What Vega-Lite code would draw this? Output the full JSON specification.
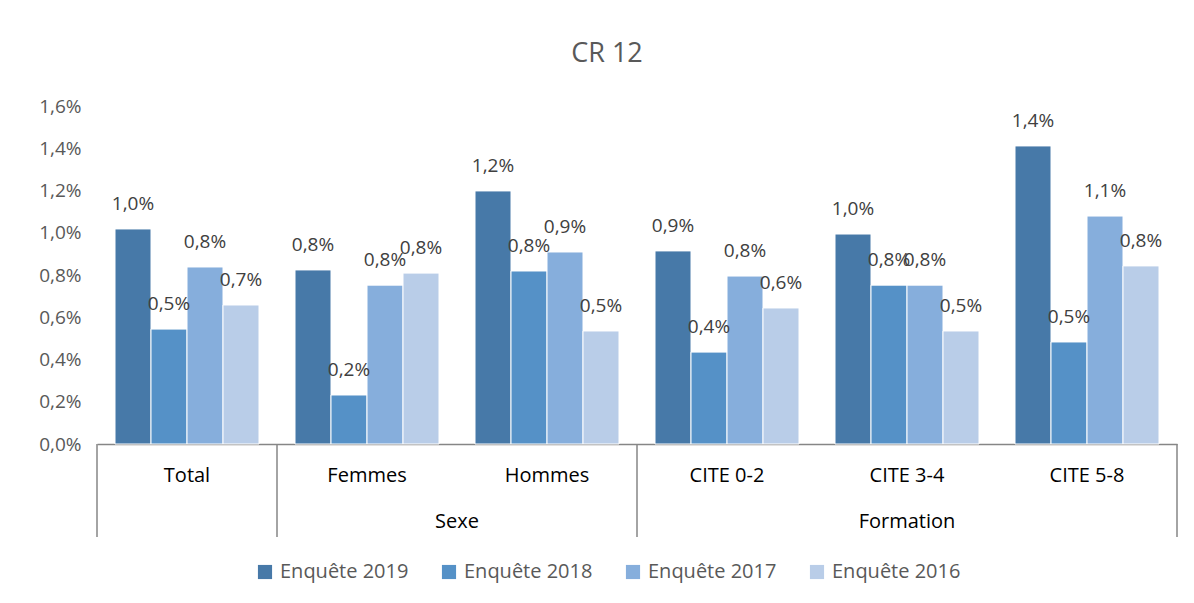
{
  "$schema": "https://vega.github.io/schema/vega-lite/v6.json",
  "width": 1080,
  "height": 338,
  "autosize": {"type": "none"},
  "padding": {"left": 97, "top": 106, "right": 17, "bottom": 159},
  "background": "white",
  "config": {
    "locale": {"number": {"decimal": ",", "thousands": " ", "grouping": [3], "currency": ["", " €"]}},
    "font": "Open Sans",
    "view": {"stroke": null}
  },
  "title": {"text": "CR 12", "fontSize": 27, "fontWeight": "normal", "color": "#595959", "anchor": "middle", "dx": -30, "offset": 29},
  "datasets": {
    "bars": [
      {"cat": "Total", "serie": "Enquête 2019", "value": 0.01018},
      {"cat": "Total", "serie": "Enquête 2018", "value": 0.00544},
      {"cat": "Total", "serie": "Enquête 2017", "value": 0.00838},
      {"cat": "Total", "serie": "Enquête 2016", "value": 0.00658},
      {"cat": "Femmes", "serie": "Enquête 2019", "value": 0.00824},
      {"cat": "Femmes", "serie": "Enquête 2018", "value": 0.00232},
      {"cat": "Femmes", "serie": "Enquête 2017", "value": 0.00752},
      {"cat": "Femmes", "serie": "Enquête 2016", "value": 0.00809},
      {"cat": "Hommes", "serie": "Enquête 2019", "value": 0.01198},
      {"cat": "Hommes", "serie": "Enquête 2018", "value": 0.00819},
      {"cat": "Hommes", "serie": "Enquête 2017", "value": 0.00909},
      {"cat": "Hommes", "serie": "Enquête 2016", "value": 0.00535},
      {"cat": "CITE 0-2", "serie": "Enquête 2019", "value": 0.00914},
      {"cat": "CITE 0-2", "serie": "Enquête 2018", "value": 0.00435},
      {"cat": "CITE 0-2", "serie": "Enquête 2017", "value": 0.00795},
      {"cat": "CITE 0-2", "serie": "Enquête 2016", "value": 0.00644},
      {"cat": "CITE 3-4", "serie": "Enquête 2019", "value": 0.00994},
      {"cat": "CITE 3-4", "serie": "Enquête 2018", "value": 0.00752},
      {"cat": "CITE 3-4", "serie": "Enquête 2017", "value": 0.00752},
      {"cat": "CITE 3-4", "serie": "Enquête 2016", "value": 0.00535},
      {"cat": "CITE 5-8", "serie": "Enquête 2019", "value": 0.01411},
      {"cat": "CITE 5-8", "serie": "Enquête 2018", "value": 0.00483},
      {"cat": "CITE 5-8", "serie": "Enquête 2017", "value": 0.01079},
      {"cat": "CITE 5-8", "serie": "Enquête 2016", "value": 0.00843}
    ],
    "cats": [
      {"cat": "Total"}, {"cat": "Femmes"}, {"cat": "Hommes"},
      {"cat": "CITE 0-2"}, {"cat": "CITE 3-4"}, {"cat": "CITE 5-8"}
    ],
    "startSeps": [{"cat": "Total"}, {"cat": "Femmes"}, {"cat": "CITE 0-2"}],
    "endSeps": [{"cat": "CITE 5-8"}],
    "grpSexe": [{"cat": "Hommes", "groupe": "Sexe"}],
    "grpForm": [{"cat": "CITE 3-4", "groupe": "Formation"}]
  },
  "layer": [
    {
      "data": {"name": "bars"},
      "mark": {"type": "bar", "stroke": "white", "strokeWidth": 1},
      "encoding": {
        "x": {
          "field": "cat", "type": "nominal",
          "sort": ["Total", "Femmes", "Hommes", "CITE 0-2", "CITE 3-4", "CITE 5-8"],
          "scale": {"paddingInner": 0, "paddingOuter": 0},
          "axis": {"title": null, "labels": false, "ticks": false, "domain": true, "domainColor": "#868686", "domainWidth": 1.5}
        },
        "xOffset": {
          "field": "serie", "type": "nominal",
          "sort": ["Enquête 2019", "Enquête 2018", "Enquête 2017", "Enquête 2016"],
          "scale": {"paddingInner": 0, "paddingOuter": 0.5}
        },
        "y": {
          "field": "value", "type": "quantitative",
          "scale": {"domain": [0, 0.016], "nice": false},
          "axis": {"title": null, "format": ".1%", "values": [0, 0.002, 0.004, 0.006, 0.008, 0.01, 0.012, 0.014, 0.016], "grid": false, "domain": false, "ticks": false, "labelFontSize": 19, "labelColor": "#595959", "labelPadding": 16}
        },
        "color": {
          "field": "serie", "type": "nominal",
          "sort": ["Enquête 2019", "Enquête 2018", "Enquête 2017", "Enquête 2016"],
          "scale": {"domain": ["Enquête 2019", "Enquête 2018", "Enquête 2017", "Enquête 2016"], "range": ["#4779a8", "#5591c7", "#86aedc", "#b9cde8"]},
          "legend": {"title": null, "orient": "none", "direction": "horizontal", "legendX": 158, "legendY": 456, "symbolType": "square", "symbolSize": 200, "symbolStrokeWidth": 0, "labelFontSize": 20, "labelColor": "#595959", "columnPadding": 30, "labelOffset": 5}
        }
      }
    },
    {
      "data": {"name": "bars"},
      "mark": {"type": "text", "fontSize": 19, "color": "#404040", "baseline": "middle", "dy": -25},
      "encoding": {
        "x": {"field": "cat", "type": "nominal", "sort": ["Total", "Femmes", "Hommes", "CITE 0-2", "CITE 3-4", "CITE 5-8"]},
        "xOffset": {"field": "serie", "type": "nominal", "sort": ["Enquête 2019", "Enquête 2018", "Enquête 2017", "Enquête 2016"]},
        "y": {"field": "value", "type": "quantitative"},
        "text": {"field": "value", "type": "quantitative", "format": ".1%"}
      }
    },
    {
      "data": {"name": "cats"},
      "mark": {"type": "text", "fontSize": 20, "color": "#000000", "baseline": "middle"},
      "encoding": {
        "x": {"field": "cat", "type": "nominal", "sort": ["Total", "Femmes", "Hommes", "CITE 0-2", "CITE 3-4", "CITE 5-8"]},
        "y": {"datum": -0.00152},
        "text": {"field": "cat"}
      }
    },
    {
      "data": {"name": "startSeps"},
      "mark": {"type": "rule", "color": "#868686", "strokeWidth": 1.5},
      "encoding": {
        "x": {"field": "cat", "type": "nominal", "bandPosition": 0, "sort": ["Total", "Femmes", "Hommes", "CITE 0-2", "CITE 3-4", "CITE 5-8"]},
        "y": {"datum": 0},
        "y2": {"datum": -0.0044}
      }
    },
    {
      "data": {"name": "endSeps"},
      "mark": {"type": "rule", "color": "#868686", "strokeWidth": 1.5},
      "encoding": {
        "x": {"field": "cat", "type": "nominal", "bandPosition": 1, "sort": ["Total", "Femmes", "Hommes", "CITE 0-2", "CITE 3-4", "CITE 5-8"]},
        "y": {"datum": 0},
        "y2": {"datum": -0.0044}
      }
    },
    {
      "data": {"name": "grpSexe"},
      "mark": {"type": "text", "fontSize": 20, "color": "#000000", "baseline": "middle"},
      "encoding": {
        "x": {"field": "cat", "type": "nominal", "bandPosition": 0, "sort": ["Total", "Femmes", "Hommes", "CITE 0-2", "CITE 3-4", "CITE 5-8"]},
        "y": {"datum": -0.0037},
        "text": {"field": "groupe"}
      }
    },
    {
      "data": {"name": "grpForm"},
      "mark": {"type": "text", "fontSize": 20, "color": "#000000", "baseline": "middle"},
      "encoding": {
        "x": {"field": "cat", "type": "nominal", "bandPosition": 0.5, "sort": ["Total", "Femmes", "Hommes", "CITE 0-2", "CITE 3-4", "CITE 5-8"]},
        "y": {"datum": -0.0037},
        "text": {"field": "groupe"}
      }
    }
  ]
}
